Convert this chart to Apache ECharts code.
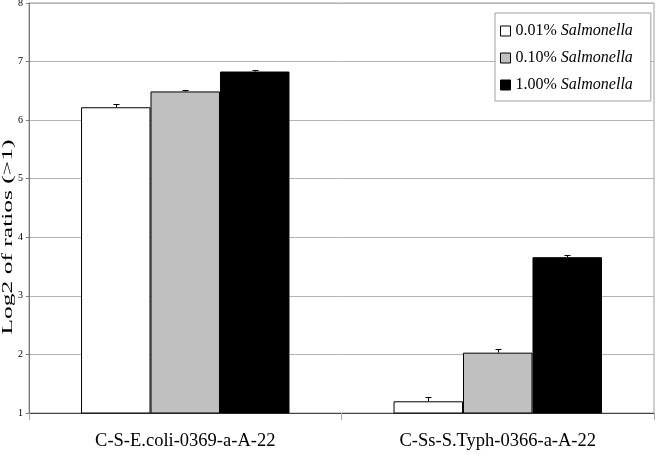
<!DOCTYPE html>
<html><head><meta charset="utf-8">
<script src="https://cdn.jsdelivr.net/npm/echarts@6/dist/echarts.min.js"></script>
<style>html,body{margin:0;padding:0;background:#fff}#c{width:656px;height:454px}</style>
</head><body><div id="c"></div>
<script>
const categories = ['C-S-E.coli-0369-a-A-22', 'C-Ss-S.Typh-0366-a-A-22'];
const seriesNames = ['0.01%', '0.10%', '1.00%'];
const values001 = [6.22, 1.20];
const values010 = [6.49, 2.03];
const values100 = [6.83, 3.66];
const err001 = [0.05, 0.07];
const err010 = [0.025, 0.06];
const err100 = [0.03, 0.04];
const yTicks = [1, 2, 3, 4, 5, 6, 7, 8];
const yAxisTitle = 'Log2 of ratios (>1)';

const allValues = [values001, values010, values100];
const allErr = [err001, err010, err100];
const colors = ['#ffffff', '#c0c0c0', '#000000'];
const font = 'Liberation Serif, Times New Roman, serif';
const catGap = 0.333;

const chart = echarts.init(document.getElementById('c'), null, {renderer: 'canvas'});

const bars = seriesNames.map((n, i) => ({
  name: n + ' Salmonella',
  type: 'bar',
  data: allValues[i],
  barGap: '0%',
  barCategoryGap: (catGap * 100) + '%',
  itemStyle: {color: colors[i], borderColor: '#000', borderWidth: 1},
  emphasis: {disabled: true},
  z: 2
}));

const errSeries = seriesNames.map((n, i) => ({
  type: 'custom',
  silent: true,
  z: 3,
  data: allValues[i].map((v, k) => [k, v, allErr[i][k]]),
  renderItem: function (params, api) {
    const k = api.value(0), v = api.value(1), e = api.value(2);
    const catW = api.size([1, 0])[0];
    const bw = catW * (1 - catGap) / 3;
    const base = api.coord([k, v]);
    const x = Math.round(base[0] + (i - 1) * bw) + 0.5;
    const top = Math.round(api.coord([k, v + e])[1]) + 0.5;
    const y0 = base[1];
    const cw = 3;
    return {
      type: 'group',
      children: [
        {type: 'line', shape: {x1: x, y1: y0, x2: x, y2: top}, style: {stroke: '#000', lineWidth: 1}},
        {type: 'line', shape: {x1: x - cw, y1: top, x2: x + cw, y2: top}, style: {stroke: '#000', lineWidth: 1}}
      ]
    };
  }
}));

chart.setOption({
  animation: false,
  backgroundColor: '#fff',
  grid: {left: 29, right: 2, top: 3, bottom: 41, containLabel: false, outerBoundsMode: 'none',
         show: true, borderColor: '#a0a0a0', borderWidth: 1},
  legend: {
    orient: 'vertical',
    left: 495,
    top: 13,
    padding: [10, 18, 8, 5],
    itemGap: 11,
    itemWidth: 10,
    itemHeight: 10,
    backgroundColor: '#fff',
    borderColor: '#a0a0a0',
    borderWidth: 1,
    data: bars.map(b => ({name: b.name, icon: 'rect', itemStyle: {borderColor: '#000', borderWidth: 1}})),
    formatter: function (name) {
      const parts = name.split(' ');
      return parts[0] + ' {i|' + parts[1] + '}';
    },
    textStyle: {
      fontFamily: font, fontSize: 16, color: '#000',
      rich: {i: {fontFamily: font, fontSize: 16, fontStyle: 'italic', color: '#000'}}
    },
    itemStyle: {borderColor: '#000', borderWidth: 1}
  },
  graphic: [{
    type: 'text',
    x: 8.5,
    y: 237,
    rotation: Math.PI / 2,
    scaleX: 1.7,
    silent: true,
    style: {
      text: yAxisTitle,
      fontFamily: font,
      fontSize: 15,
      fill: '#000',
      align: 'center',
      verticalAlign: 'middle'
    }
  }],
  xAxis: {
    type: 'category',
    data: categories,
    axisLine: {lineStyle: {color: '#444', width: 1}},
    axisTick: {show: true, length: 7, lineStyle: {color: '#aaa'}},
    axisLabel: {fontFamily: font, fontSize: 18.5, color: '#000', margin: 19}
  },
  yAxis: {
    type: 'value',
    min: yTicks[0],
    max: yTicks[yTicks.length - 1],
    interval: 1,
    axisLine: {show: true, lineStyle: {color: '#777', width: 1}},
    axisTick: {show: true, length: 3, lineStyle: {color: '#777'}},
    axisLabel: {fontFamily: font, fontSize: 10, color: '#000', margin: 6},
    splitLine: {lineStyle: {color: '#b4b4b4', width: 1}}
  },
  series: bars.concat(errSeries)
});
</script></body></html>
